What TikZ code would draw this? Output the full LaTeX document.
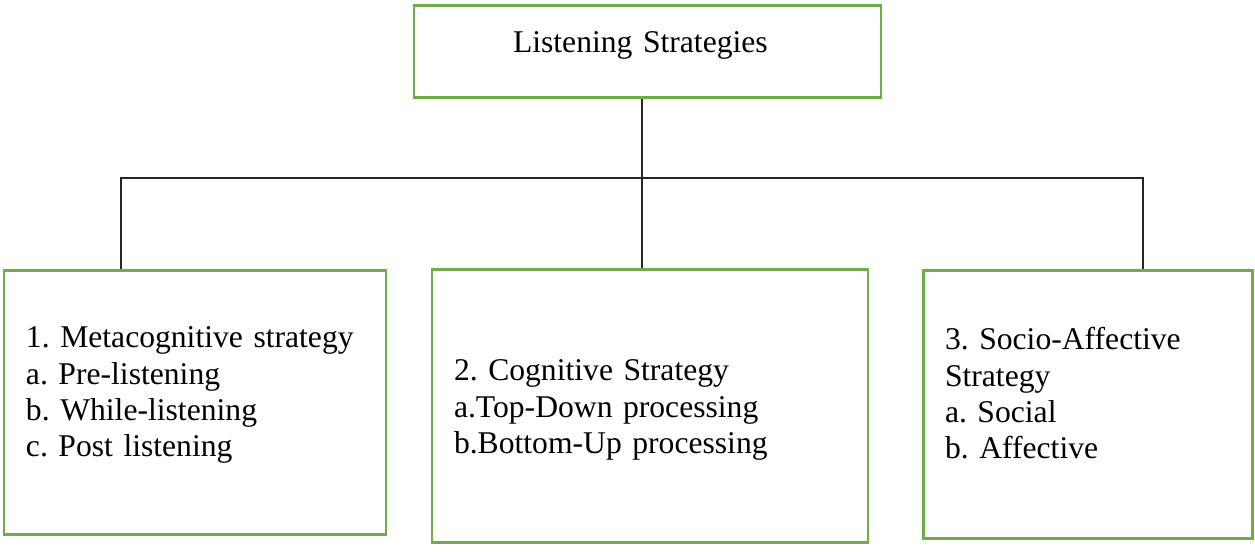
\documentclass[tikz,border=0pt]{standalone}
\usepackage{fontspec}
\setmainfont{Liberation Serif}
\usepackage{tikz}
\usetikzlibrary{calc}
\definecolor{boxgreen}{RGB}{112,173,71}
\tikzset{
  stratbox/.style={draw=boxgreen,line width=1.7pt,rectangle,
    align=left,inner xsep=0.44cm,inner ysep=0pt,
    font=\fontsize{18}{20.6}\selectfont\frenchspacing},
  link/.style={draw=black!85,line width=0.8pt}
}

\begin{document}
\begin{tikzpicture}
    \useasboundingbox (0,0) rectangle (25.1,11.04);
    % title box, text sits high in the box
    \node[stratbox,inner xsep=1.98cm,text width=5.38cm,text height=0.94cm,
    text depth=0.9cm] (top) at (12.95,10.0) {Listening Strategies};
    % the three kinds of strategy
    \node[stratbox,text width=6.76cm,text height=1.54cm,text depth=3.74cm]
    (meta) at (3.90,2.98) {1. Metacognitive strategy\\a. Pre-listening\\b.
    While-listening\\c. Post listening};
    \node[stratbox,text width=7.84cm,text height=2.22cm,text depth=3.24cm]
    (cogn) at (13.0,2.91) {2. Cognitive Strategy\\a.Top-Down
    processing\\b.Bottom-Up processing};
    \node[stratbox,text width=5.70cm,text height=1.58cm,text depth=3.78cm]
    (socio) at (21.75,2.94) {3. Socio-Affective\\Strategy\\a. Social\\b.
    Affective};
    % branching lines
    \coordinate (hub) at (12.84,7.48);
    \coordinate (lhub) at (2.42,7.48);
    \coordinate (rhub) at (22.86,7.48);
    \draw[link] (top.south -| hub) -- (cogn.north -| hub);
    \draw[link] (meta.north -| lhub) -- (lhub) -- (rhub) -- (socio.north -|
    rhub);
\end{tikzpicture}
\end{document}
